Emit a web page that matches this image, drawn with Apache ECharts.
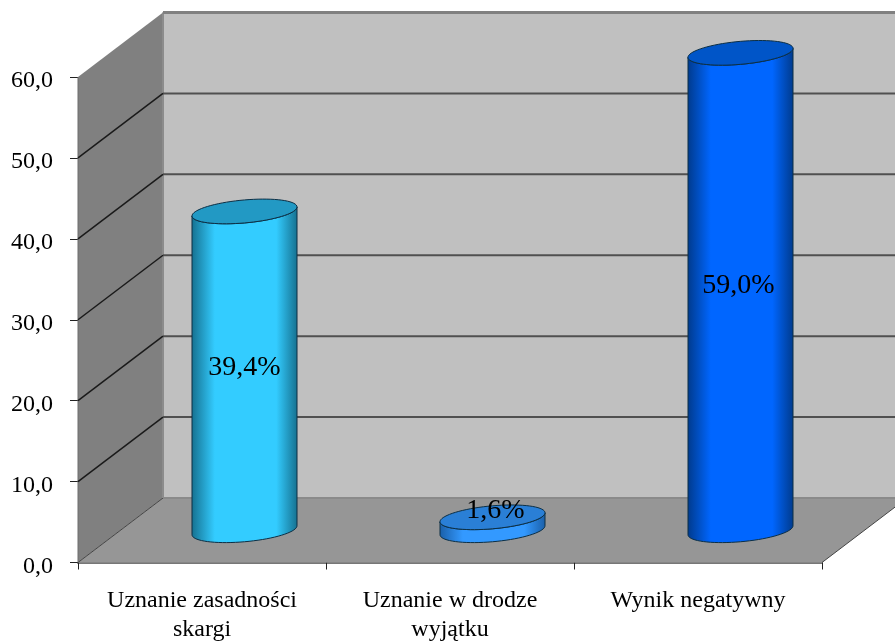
<!DOCTYPE html>
<html>
<head>
<meta charset="utf-8">
<style>html,body{margin:0;padding:0;background:#fff}#c{width:895px;height:641px}</style>
<script src="https://cdn.jsdelivr.net/npm/echarts@6/dist/echarts.min.js"></script>
</head>
<body>
<div id="c"></div>
<script>
const categories = ['Uznanie zasadności\nskargi', 'Uznanie w drodze\nwyjątku', 'Wynik negatywny'];
const values = [39.4, 1.6, 59.0];
const valueLabels = ['39,4%', '1,6%', '59,0%'];
const gridTicks = [0, 10, 20, 30, 40, 50, 60];
const bodyColors = ['#33ccff', '#3399ff', '#0066ff'];
const shadeColors = ['#15708f', '#1a5fa8', '#003a8c'];
const topColors = ['#2299c4', '#2a7fd6', '#0055c8'];
const labelShift = [-3, -13, -6];
const labelShiftX = [0, 3, -2];

const FONT = '"Liberation Serif","Times New Roman",serif';
const DX = 85, DY = -64.5;

const chart = echarts.init(document.getElementById('c'), null, { renderer: 'canvas' });

function cylinder(params, api) {
  const i = api.value(0), v = api.value(1);
  const base = api.coord([i, 0]), top = api.coord([i, v]);
  const cx = base[0] + DX / 2;
  const yb = base[1] + DY / 2, yt = top[1] + DY / 2;
  const a = 52.5, b = 11.5, s = 4.5;
  const pt = (t, y) => [cx + a * Math.cos(t), y + b * Math.sin(t) - s * Math.cos(t)];
  const ring = [], body = [];
  const N = 72;
  for (let k = 0; k < N; k++) ring.push(pt(k / N * 2 * Math.PI, yt));
  for (let k = 0; k <= N / 2; k++) body.push(pt(k / N * 2 * Math.PI, yb));
  for (let k = N / 2; k >= 0; k--) body.push(pt(k / N * 2 * Math.PI, yt));
  const edge = shadeColors[i];
  const grad = new echarts.graphic.LinearGradient(0, 0, 1, 0, [
    { offset: 0, color: edge },
    { offset: 0.22, color: bodyColors[i] },
    { offset: 0.8, color: bodyColors[i] },
    { offset: 1, color: edge }
  ]);
  const line = '#0c2f45';
  return {
    type: 'group',
    children: [
      { type: 'polygon', shape: { points: body }, style: { fill: grad, stroke: line, lineWidth: 1 } },
      { type: 'polygon', shape: { points: ring }, style: { fill: topColors[i], stroke: line, lineWidth: 1 } },
      { type: 'text', z2: 10, style: {
          text: valueLabels[i], x: cx + labelShiftX[i], y: (yb + yt) / 2 + labelShift[i],
          align: 'center', verticalAlign: 'middle',
          font: '28px ' + FONT, fill: '#000' } }
    ]
  };
}

function walls(params, api) {
  const c = params.coordSys;
  const l = c.x, r = c.x + c.width, b = c.y + c.height, t = c.y;
  return {
    type: 'group',
    children: [
      { type: 'polygon', shape: { points: [[l + DX, t + DY], [r + DX, t + DY], [r + DX, b + DY], [l + DX, b + DY]] },
        style: { fill: '#c0c0c0', stroke: null } },
      { type: 'polygon', shape: { points: [[l, t], [l + DX, t + DY], [l + DX, b + DY], [l, b]] },
        style: { fill: '#808080', stroke: null } },
      { type: 'polygon', shape: { points: [[l, b], [r, b], [r + DX, b + DY], [l + DX, b + DY]] },
        style: { fill: '#969696', stroke: null } },
      { type: 'line', shape: { x1: l, y1: b, x2: l + DX, y2: b + DY }, style: { stroke: '#444', lineWidth: 1 } },
      { type: 'line', shape: { x1: r, y1: b, x2: r + DX, y2: b + DY }, style: { stroke: '#444', lineWidth: 1 } },
      { type: 'line', shape: { x1: l + DX, y1: t + DY, x2: l + DX, y2: b + DY }, style: { stroke: '#8c8c8c', lineWidth: 2 } },
      { type: 'line', shape: { x1: l, y1: t, x2: l, y2: b }, style: { stroke: '#6c6c6c', lineWidth: 1 } }
    ]
  };
}

function gridLine(params, api) {
  const v = api.value(0);
  const p = api.coord([0, v]);
  const c = params.coordSys;
  const l = c.x, r = c.x + c.width;
  const top = v === 60, bottom = v === 0;
  const kids = [];
  kids.push({ type: 'line', shape: { x1: l + DX, y1: p[1] + DY, x2: r + DX, y2: p[1] + DY },
    style: { stroke: top ? '#808080' : bottom ? '#8a8a8a' : '#505050', lineWidth: top ? 3 : 2 } });
  if (!top && !bottom) {
    kids.push({ type: 'line', shape: { x1: l, y1: p[1], x2: l + DX, y2: p[1] + DY },
      style: { stroke: '#1a1a1a', lineWidth: 1.5 } });
  }
  return { type: 'group', children: kids };
}

chart.setOption({
  animation: false,
  backgroundColor: '#ffffff',
  grid: { left: 78, right: 73, top: 77, bottom: 78.5, containLabel: false, outerBoundsMode: 'none' },
  xAxis: {
    type: 'category',
    data: categories,
    boundaryGap: true,
    axisLine: { show: true, onZero: false, lineStyle: { color: '#777', width: 2 } },
    axisTick: { show: true, length: 7, alignWithLabel: false, lineStyle: { color: '#222', width: 1 } },
    axisLabel: { color: '#000', fontFamily: FONT, fontSize: 24, margin: 24, lineHeight: 29, interval: 0 },
    splitLine: { show: false }
  },
  yAxis: {
    type: 'value',
    min: 0, max: 60, interval: 10,
    axisLine: { show: false },
    axisTick: { show: true, length: 8, lineStyle: { color: '#222', width: 1 } },
    axisLabel: { color: '#000', fontFamily: FONT, fontSize: 24, margin: 25, verticalAlign: 'top', lineHeight: 8,
      formatter: v => v.toFixed(1).replace('.', ',') },
    splitLine: { show: false }
  },
  series: [
    { type: 'custom', name: 'walls', coordinateSystem: 'cartesian2d', z: 1, silent: true,
      clip: false, renderItem: walls, data: [[0, 0]], encode: { x: 0, y: 1 } },
    { type: 'custom', name: 'grid', coordinateSystem: 'cartesian2d', z: 2, silent: true,
      clip: false, renderItem: gridLine, data: gridTicks.map(v => [v]), encode: { y: 0 } },
    { type: 'custom', name: 'values', coordinateSystem: 'cartesian2d', z: 3, silent: true,
      clip: false, renderItem: cylinder,
      data: values.map((v, i) => [i, v]), encode: { x: 0, y: 1 } }
  ]
});
</script>
</body>
</html>
